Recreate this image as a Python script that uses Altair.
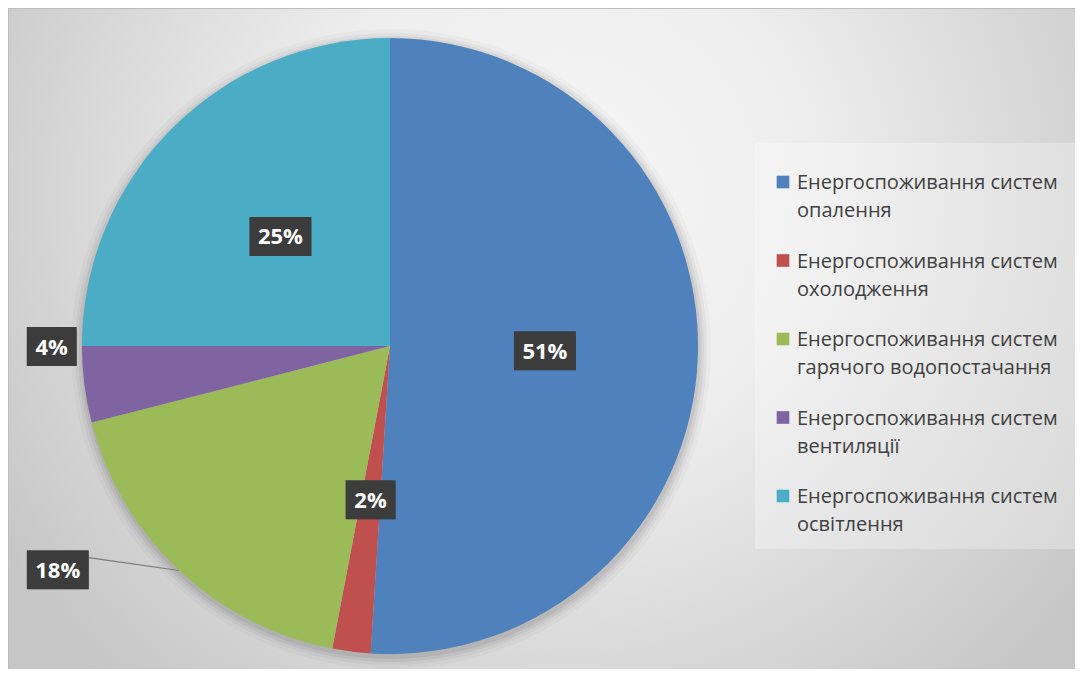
import altair as alt
import pandas as pd

# ---------------- data ----------------
categories = [
    "Енергоспоживання систем опалення",
    "Енергоспоживання систем охолодження",
    "Енергоспоживання систем гарячого водопостачання",
    "Енергоспоживання систем вентиляції",
    "Енергоспоживання систем освітлення",
]
values = [51, 2, 18, 4, 25]
colors = ["#4f81bd", "#c0504d", "#9bbb59", "#8064a2", "#4bacc6"]

# ---------------- layout (pixels, chart coordinates) ----------------
W, H = 1067, 661
CX, CY, R = 382, 338, 308
LABEL_R = 155           # inside labels
OUT_R = 348             # outside labels (base radius)
# Excel's "best fit" nudges for the two outside labels (index -> dx, dy)
OUT_NUDGE = {2: (-94, -30), 3: (7, -43)}
BOX_H = 39
LEG_X, LEG_Y0, LEG_STEP = 775, 174, 78.5

df = pd.DataFrame({
    "idx": list(range(len(categories))),
    "cat": categories,
    "value": values,
})
df["label"] = df["value"].astype(str) + "%"
df["leg"] = df["cat"].str.replace("систем ", "систем\n", regex=False)

base = alt.Chart(df)

# background with radial gradient
bg = alt.Chart(alt.Data(values=[{"a": 1}])).mark_rect(
    fill={
        "gradient": "radial",
        "x1": 0.517, "y1": 0.366, "r1": 0,
        "x2": 0.517, "y2": 0.366, "r2": 0.62,
        "stops": [
            {"offset": 0, "color": "#f6f6f6"},
            {"offset": 0.38, "color": "#eeeeee"},
            {"offset": 1, "color": "#c6c6c6"},
        ],
    }
).encode(x=alt.value(0), x2=alt.value(W), y=alt.value(0), y2=alt.value(H))

border = alt.Chart(alt.Data(values=[{"a": 1}])).mark_rule(
    color="#bdbdbd", strokeWidth=1
)
border_top = border.encode(x=alt.value(0), x2=alt.value(W), y=alt.value(0.5))
border_left = border.encode(x=alt.value(0.5), y=alt.value(0), y2=alt.value(H))

# soft shadow of the pie
shadow_layers = []
for k, op in [(12, 0.025), (8, 0.035), (5, 0.05), (2, 0.06)]:
    shadow_layers.append(
        alt.Chart(alt.Data(values=[{"a": 1}])).mark_arc(
            outerRadius=R + k, theta=0, theta2=6.2832, fill="black", opacity=op
        ).encode(x=alt.value(CX + 1), y=alt.value(CY + 3))
    )

pie = base.mark_arc(outerRadius=R, stroke=None).encode(
    x=alt.value(CX),
    y=alt.value(CY),
    theta=alt.Theta("value:Q", stack=True),
    color=alt.Color("cat:N", scale=alt.Scale(domain=categories, range=colors), legend=None),
    order=alt.Order("idx:Q"),
)

# label positions derived from the stacked angles
nx = "(datum.idx==2?%d:(datum.idx==3?%d:0))" % (OUT_NUDGE[2][0], OUT_NUDGE[3][0])
ny = "(datum.idx==2?%d:(datum.idx==3?%d:0))" % (OUT_NUDGE[2][1], OUT_NUDGE[3][1])
lab = base.transform_window(
    cum="sum(value)", sort=[{"field": "idx"}], frame=[None, 0]
).transform_joinaggregate(
    total="sum(value)"
).transform_calculate(
    mid="(datum.cum - datum.value/2)/datum.total*2*PI",
    out="datum.idx==2 || datum.idx==3",
).transform_calculate(
    rr=f"datum.out ? {OUT_R} : {LABEL_R}",
).transform_calculate(
    lx=f"{CX} + datum.rr*sin(datum.mid) + " + nx,
    ly=f"{CY} - datum.rr*cos(datum.mid) + " + ny,
    bw="26 + 12*length(datum.label)",
    ex=f"{CX} + {R}*sin(datum.mid)",
    ey=f"{CY} - {R}*cos(datum.mid)",
).transform_calculate(
    bx1="datum.lx - datum.bw/2",
    bx2="datum.lx + datum.bw/2",
    by1=f"datum.ly - {BOX_H/2}",
    by2=f"datum.ly + {BOX_H/2}",
)

def px(f):
    return alt.X(f"{f}:Q", scale=None, axis=None)

def py(f):
    return alt.Y(f"{f}:Q", scale=None, axis=None)

def px2(f):
    return alt.X2(f"{f}:Q")

def py2(f):
    return alt.Y2(f"{f}:Q")

box_shadow1 = lab.mark_rect(fill="black", opacity=0.12).encode(
    x=px("bx1"), x2=px2("bx2"), y=py("by1"), y2=py2("by2"),
    xOffset=alt.value(4), yOffset=alt.value(5),
)
box_shadow2 = lab.mark_rect(fill="black", opacity=0.22).encode(
    x=px("bx1"), x2=px2("bx2"), y=py("by1"), y2=py2("by2"),
    xOffset=alt.value(2), yOffset=alt.value(3),
)
box = lab.mark_rect(fill="#3c3c3c").encode(
    x=px("bx1"), x2=px2("bx2"), y=py("by1"), y2=py2("by2"),
)
txt = lab.mark_text(
    font="Open Sans", fontWeight="bold", fontSize=22, color="white",
    align="center", baseline="middle", dy=1,
).encode(x=px("lx"), y=py("ly"), text="label:N")

leader = lab.transform_filter("datum.idx==2").transform_calculate(
    sx="datum.bx2", sy="datum.ly - 12"
).mark_rule(color="#7a7a7a", strokeWidth=1.2).encode(
    x=px("sx"), y=py("sy"), x2=px2("ex"), y2=py2("ey")
)

# legend drawn from the same data
leg = base.transform_calculate(
    ly=f"{LEG_Y0} + datum.idx*{LEG_STEP}", lxs=f"{LEG_X}", lxt=f"{LEG_X + 14}",
)
leg_box = alt.Chart(alt.Data(values=[{"a": 1}])).mark_rect(
    fill="white", opacity=0.28
).encode(x=alt.value(747), x2=alt.value(W), y=alt.value(135), y2=alt.value(541))
leg_sym = leg.mark_square(size=160, opacity=1).encode(
    x=px("lxs"), y=py("ly"),
    color=alt.Color("cat:N", scale=alt.Scale(domain=categories, range=colors), legend=None),
)
leg_txt = leg.mark_text(
    font="Open Sans", fontSize=20, color="#404040", align="left",
    baseline="alphabetic", lineBreak="\n", lineHeight=28, dy=7,
).encode(x=px("lxt"), y=py("ly"), text="leg:N")

chart = alt.layer(
    bg, border_top, border_left, *shadow_layers, pie, leader,
    box_shadow1, box_shadow2, box, txt, leg_box, leg_sym, leg_txt,
).properties(
    width=W, height=H, padding=0, autosize=alt.AutoSizeParams(type="none"),
    background="white",
).configure_view(stroke=None)

chart.save("out.html", embed_options={"renderer": "svg", "actions": False})
